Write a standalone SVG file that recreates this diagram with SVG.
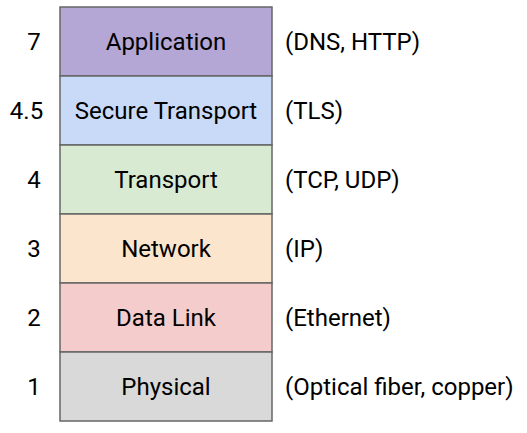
<svg xmlns="http://www.w3.org/2000/svg" width="527" height="433" viewBox="0 0 527 433">
<style>
.box{stroke:#666;stroke-width:1.5}
text{font-family:Roboto,"Liberation Sans",sans-serif;font-size:24px;fill:#000}
.c{text-anchor:middle}
</style>
<rect width="527" height="433" fill="#fff"/>
<g id="application"><rect class="box" x="60" y="7" width="212" height="69" fill="#b4a7d6"/><text class="c" x="166" y="50">Application</text><text class="c" x="34" y="50">7</text><text x="285" y="50">(DNS, HTTP)</text></g>
<g id="secure-transport"><rect class="box" x="60" y="76" width="212" height="69" fill="#c9daf8"/><text class="c" x="166" y="119">Secure Transport</text><text class="c" x="26.5" y="119">4.5</text><text x="285" y="119">(TLS)</text></g>
<g id="transport"><rect class="box" x="60" y="145" width="212" height="69" fill="#d9ead3"/><text class="c" x="166" y="188">Transport</text><text class="c" x="34" y="188">4</text><text x="285" y="188">(TCP, UDP)</text></g>
<g id="network"><rect class="box" x="60" y="214" width="212" height="69" fill="#fce5cd"/><text class="c" x="166" y="257">Network</text><text class="c" x="34" y="257">3</text><text x="285" y="257">(IP)</text></g>
<g id="data-link"><rect class="box" x="60" y="283" width="212" height="69" fill="#f4cccc"/><text class="c" x="166" y="326">Data Link</text><text class="c" x="34" y="326">2</text><text x="285" y="326">(Ethernet)</text></g>
<g id="physical"><rect class="box" x="60" y="352" width="212" height="69" fill="#d9d9d9"/><text class="c" x="166" y="395">Physical</text><text class="c" x="34" y="395">1</text><text x="285" y="395">(Optical fiber, copper)</text></g>
<g id="connectors"></g>
</svg>
